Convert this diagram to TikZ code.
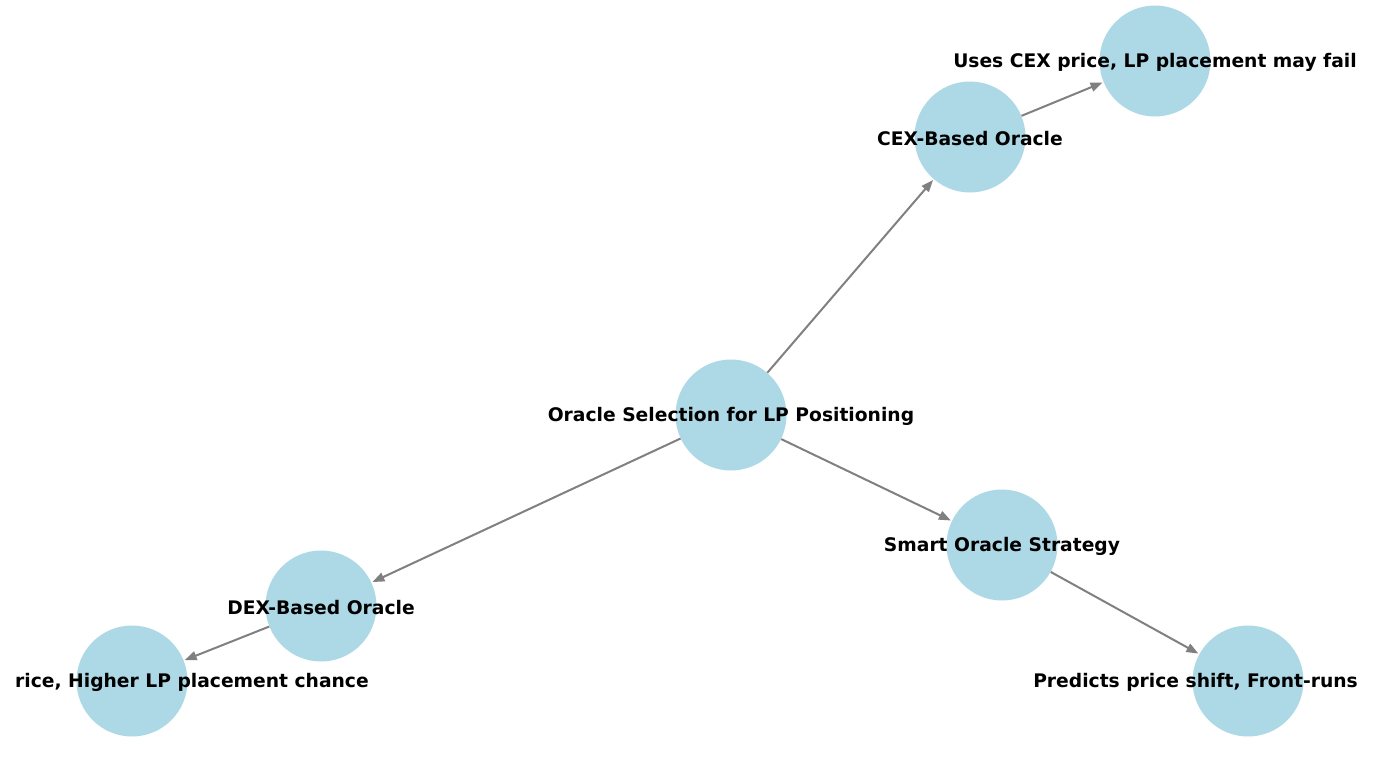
\documentclass[tikz,border=0pt]{standalone}
\usepackage{fontspec}
\setmainfont{DejaVu Sans}
\usetikzlibrary{arrows.meta}
\definecolor{nodeblue}{HTML}{ADD8E6}
\definecolor{edgegray}{HTML}{808080}
\begin{document}
\begin{tikzpicture}[x=1pt,y=-1pt,
  vert/.style={circle,fill=nodeblue,minimum size=111pt,inner sep=0pt},
  lbl/.style={font=\fontsize{18.7}{22}\selectfont\bfseries,inner sep=0pt,text=black,yshift=-1.5pt},
  edge/.style={draw=edgegray,line width=2pt,-{Triangle[length=12pt,width=9pt]},shorten >=1pt}]
\useasboundingbox (0,0) rectangle (1380,760);
\node[vert] (root) at (731,415) {};
\node[vert] (cex) at (970,137) {};
\node[vert] (cexr) at (1155,61) {};
\node[vert] (smart) at (1002,545) {};
\node[vert] (smartr) at (1248,681) {};
\node[vert] (dex) at (321,606) {};
\node[vert] (dexr) at (132,681) {};
\draw[edge] (root) -- (cex);
\draw[edge] (cex) -- (cexr);
\draw[edge] (root) -- (smart);
\draw[edge] (smart) -- (smartr);
\draw[edge] (root) -- (dex);
\draw[edge] (dex) -- (dexr);
\node[lbl] (lroot) at (root) {Oracle Selection for LP Positioning};
\node[lbl] (lcex) at (cex) {CEX-Based Oracle};
\node[lbl] (lcexr) at (cexr) {Uses CEX price, LP placement may fail};
\node[lbl] (lsmart) at (smart) {Smart Oracle Strategy};
\node[lbl,anchor=east] (lsmartr) at (1358,681) {Predicts price shift, Front-runs};
\node[lbl] (ldex) at (dex) {DEX-Based Oracle};
\node[lbl,anchor=west] (ldexr) at (15,681) {rice, Higher LP placement chance};
\end{tikzpicture}
\end{document}
